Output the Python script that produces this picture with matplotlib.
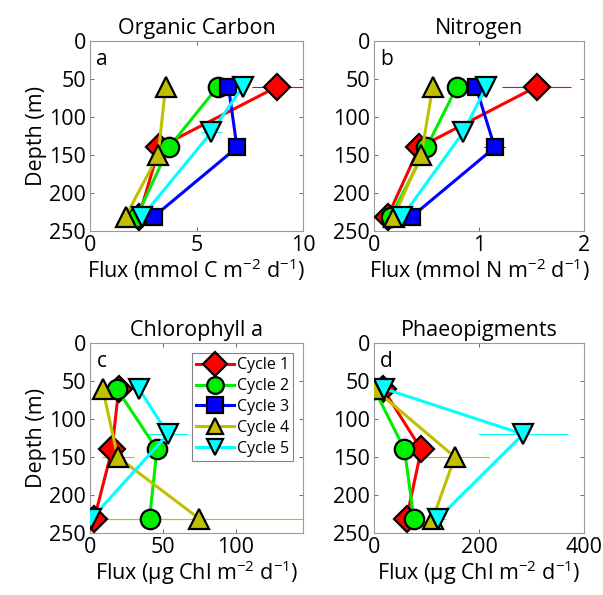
import numpy as np
import matplotlib
matplotlib.use('Agg')
import matplotlib.pyplot as plt

plt.rcParams['font.family'] = ['Open Sans', 'DejaVu Sans']
plt.rcParams['mathtext.fontset'] = 'custom'
plt.rcParams['mathtext.rm'] = 'Open Sans'
plt.rcParams['mathtext.it'] = 'Open Sans:italic'

### data (depth in m, flux, horizontal error)
cycles = ['Cycle 1', 'Cycle 2', 'Cycle 3', 'Cycle 4', 'Cycle 5']
depths = [[60, 140, 231], [60, 140, 231], [60, 140, 231], [60, 150, 231], [60, 120, 231]]

poc = [[8.8, 3.25, 2.3], [6.0, 3.7, 2.2], [6.5, 6.9, 3.0], [3.55, 3.2, 1.67], [7.17, 5.7, 2.45]]
poc_err = [[1.2, 0.2, 0.2], [0.2, 0.5, 0.2], [0.6, 0.3, 0.3], [0.1, 0.2, 0.2], [0.3, 0.5, 0.2]]

pon = [[1.55, 0.43, 0.13], [0.79, 0.5, 0.16], [0.97, 1.15, 0.36], [0.56, 0.45, 0.19], [1.07, 0.85, 0.27]]
pon_err = [[0.33, 0.05, 0.03], [0.03, 0.08, 0.03], [0.1, 0.1, 0.05], [0.02, 0.03, 0.02], [0.05, 0.05, 0.03]]

chl = [[19.7, 15.1, 3.0], [18.3, 45.9, 40.8], [np.nan, np.nan, np.nan], [8.7, 19.0, 74.8], [33.5, 53.4, 1.0]]
chl_err = [[1, 2, 2], [2, 3, 40], [0, 0, 0], [2, 11, 80], [3, 14, 2]]

phaeo = [[17, 90, 62], [0, 58, 76], [np.nan, np.nan, np.nan], [0, 154, 112], [19, 284, 122]]
phaeo_err = [[3, 8, 5], [2, 15, 6], [0, 0, 0], [2, 65, 8], [3, 86, 15]]

colors = ['#ff0000', '#00ee00', '#0000ff', '#c0c000', '#00ffff']
markers = ['D', 'o', 's', '^', 'v']
msizes = [13, 14, 11, 15, 15]

W, H = 603, 595
fig = plt.figure(figsize=(W / 100, H / 100), dpi=100)

panels = [
    # left, top, right, bottom in pixels
    ((90, 41, 303, 231), poc, poc_err, (0, 10), [0, 5, 10], 'Organic Carbon',
     'Flux (mmol C m$^{-2}$ d$^{-1}$)', 'a', True),
    ((374, 41, 584, 231), pon, pon_err, (0, 2), [0, 1, 2], 'Nitrogen',
     'Flux (mmol N m$^{-2}$ d$^{-1}$)', 'b', False),
    ((90, 343, 303, 533), chl, chl_err, (0, 146), [0, 50, 100], 'Chlorophyll a',
     'Flux (\u00b5g Chl m$^{-2}$ d$^{-1}$)', 'c', True),
    ((374, 343, 584, 533), phaeo, phaeo_err, (0, 400), [0, 200, 400], 'Phaeopigments',
     'Flux (\u00b5g Chl m$^{-2}$ d$^{-1}$)', 'd', False),
]

for (l, t, r, b), vals, errs, xlim, xticks, title, xlabel, letter, ylab in panels:
    ax = fig.add_axes([l / W, (H - b) / H, (r - l) / W, (b - t) / H])
    for i in range(len(cycles)):
        ax.errorbar(vals[i], depths[i], xerr=errs[i], fmt='none', ecolor=colors[i],
                    elinewidth=0.8, capsize=0, zorder=2 + i * 0.1)
        ax.plot(vals[i], depths[i], color=colors[i], lw=2.2, marker=markers[i],
                ms=msizes[i], mfc=colors[i], mec='black', mew=1.6,
                label=cycles[i], zorder=3 + i)
    ax.set_xlim(xlim)
    ax.set_ylim(250, 0)
    ax.set_xticks(xticks)
    ax.set_yticks([0, 50, 100, 150, 200, 250])
    ax.tick_params(direction='in', length=3, width=0.6, top=True, right=True,
                   labelsize=15.5, color='#555555', pad=3)
    for sp in ax.spines.values():
        sp.set_color('#999999')
        sp.set_linewidth(0.8)
    ax.set_title(title, fontsize=15.5, pad=5)
    ax.set_xlabel(xlabel, fontsize=15.5, labelpad=0)
    if ylab:
        ax.set_ylabel('Depth (m)', fontsize=15.5, labelpad=1)
    ax.text(0.03, 0.96, letter, transform=ax.transAxes, fontsize=15, va='top', ha='left')
    if letter == 'c':
        leg = ax.legend(loc='upper right', bbox_to_anchor=(0.955, 0.945), fontsize=11.5,
                        handlelength=2.4, handletextpad=0.2, borderpad=0.25,
                        labelspacing=0.3, fancybox=False, borderaxespad=0)
        leg.get_frame().set_edgecolor('#666666')
        leg.get_frame().set_linewidth(0.8)
        for h in leg.legend_handles:
            h.set_markersize(12)

plt.savefig('out.png', dpi=100)
